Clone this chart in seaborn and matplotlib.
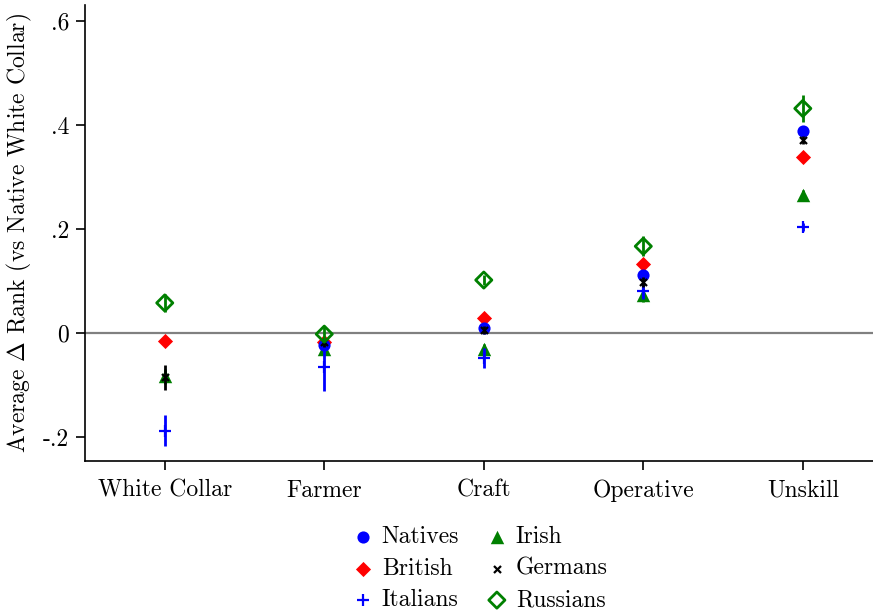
import numpy as np
import pandas as pd
import matplotlib
matplotlib.use("Agg")
import matplotlib.pyplot as plt
import seaborn as sns

# Occupation categories on the x axis
occupations = ["White Collar", "Farmer", "Craft", "Operative", "Unskill"]

# Average change in rank relative to native white-collar (NaN = reference / not estimated)
natives = [np.nan, -0.022, 0.010, 0.111, 0.388]
british = [-0.015, -0.017, 0.029, 0.133, 0.339]
italians = [-0.188, -0.065, -0.048, 0.081, 0.204]
irish = [-0.083, -0.030, -0.031, 0.073, 0.265]
germans = [-0.085, -0.018, 0.006, 0.098, 0.371]
russians = [0.058, -0.002, 0.102, 0.167, 0.432]

# Half-widths of the confidence intervals
natives_ci = [np.nan, 0.005, 0.005, 0.006, 0.006]
british_ci = [0.007, 0.007, 0.007, 0.008, 0.008]
italians_ci = [0.030, 0.047, 0.020, 0.015, 0.008]
irish_ci = [0.014, 0.010, 0.010, 0.013, 0.010]
germans_ci = [0.024, 0.008, 0.008, 0.010, 0.008]
russians_ci = [0.017, 0.015, 0.010, 0.019, 0.026]

yticks = [-0.2, 0.0, 0.2, 0.4, 0.6]
ytick_labels = ["-.2", "0", ".2", ".4", ".6"]

sns.set_style("ticks")
plt.rcParams.update({
    "font.family": ["cmr10", "DejaVu Serif"],
    "mathtext.fontset": "cm",
    "axes.unicode_minus": False,
    "axes.formatter.use_mathtext": True,
    "font.size": 17,
    "text.color": "black",
    "axes.edgecolor": "black",
    "xtick.color": "black",
    "ytick.color": "black",
    "axes.labelcolor": "black",
})

groups = [
    # name, values, ci, marker, color, size, filled, zorder
    ("Natives", natives, natives_ci, "o", "#0000ff", 90, True, 4),
    ("British", british, british_ci, "D", "#ff0000", 70, True, 3),
    ("Italians", italians, italians_ci, "+", "#0000ff", 100, True, 5),
    ("Irish", irish, irish_ci, "^", "#008000", 110, True, 2),
    ("Germans", germans, germans_ci, "x", "#000000", 30, True, 6),
    ("Russians", russians, russians_ci, "D", "#008000", 80, False, 7),
]

rows = []
for name, vals, cis, *_ in groups:
    for i, occ in enumerate(occupations):
        rows.append({"group": name, "occ": occ, "pos": i, "rank": vals[i], "ci": cis[i]})
df = pd.DataFrame(rows).dropna()

fig = plt.figure(figsize=(8.73, 6.15), dpi=100)
ax = fig.add_axes([85 / 873, 154 / 615, 1 - 85 / 873, 456 / 615])

ax.axhline(0, color="#808080", lw=1.6, zorder=1)

for name, vals, cis, marker, color, size, filled, z in groups:
    sub = df[df["group"] == name]
    ax.vlines(sub["pos"], sub["rank"] - sub["ci"], sub["rank"] + sub["ci"],
              color=color, lw=2, zorder=z)
    if filled:
        lw = 1.6 if marker in ("+", "x") else 0
        sns.scatterplot(data=sub, x="pos", y="rank", marker=marker, color=color,
                        s=size, linewidth=lw, edgecolor=color if marker not in ("+", "x") else None,
                        ax=ax, zorder=z + 0.5, label=name)
    else:
        sns.scatterplot(data=sub, x="pos", y="rank", marker=marker, s=size,
                        facecolor="none", edgecolor=color, linewidth=2,
                        ax=ax, zorder=z + 0.5, label=name)

ax.set_xlim(-0.5, 4.44)
ax.set_ylim(-0.246, 0.631)
ax.set_xticks(range(len(occupations)))
ax.set_xticklabels(occupations, fontsize=17)
ax.set_yticks(yticks)
ax.set_yticklabels(ytick_labels, fontsize=17)
ax.set_xlabel("")
ax.set_ylabel(r"Average $\Delta$ Rank (vs Native White Collar)", fontsize=17, labelpad=6)
ax.tick_params(axis="both", length=6.5, width=1.2, pad=5)
ax.tick_params(axis="x", pad=7)
for side in ("top", "right"):
    ax.spines[side].set_visible(False)
for side in ("left", "bottom"):
    ax.spines[side].set_linewidth(1.2)

handles, labels = ax.get_legend_handles_labels()
ax.get_legend().remove()
for h in handles:
    try:
        h.set_sizes([h.get_sizes()[0] * 0.85])
    except Exception:
        pass
fig.legend(handles, labels, ncol=2, loc="upper center", bbox_to_anchor=(0.545, 0.16),
           frameon=False, fontsize=17, handletextpad=0.0, handlelength=1.6,
           columnspacing=0.8, labelspacing=0.4, borderaxespad=0)

fig.savefig("out.png", dpi=100)
